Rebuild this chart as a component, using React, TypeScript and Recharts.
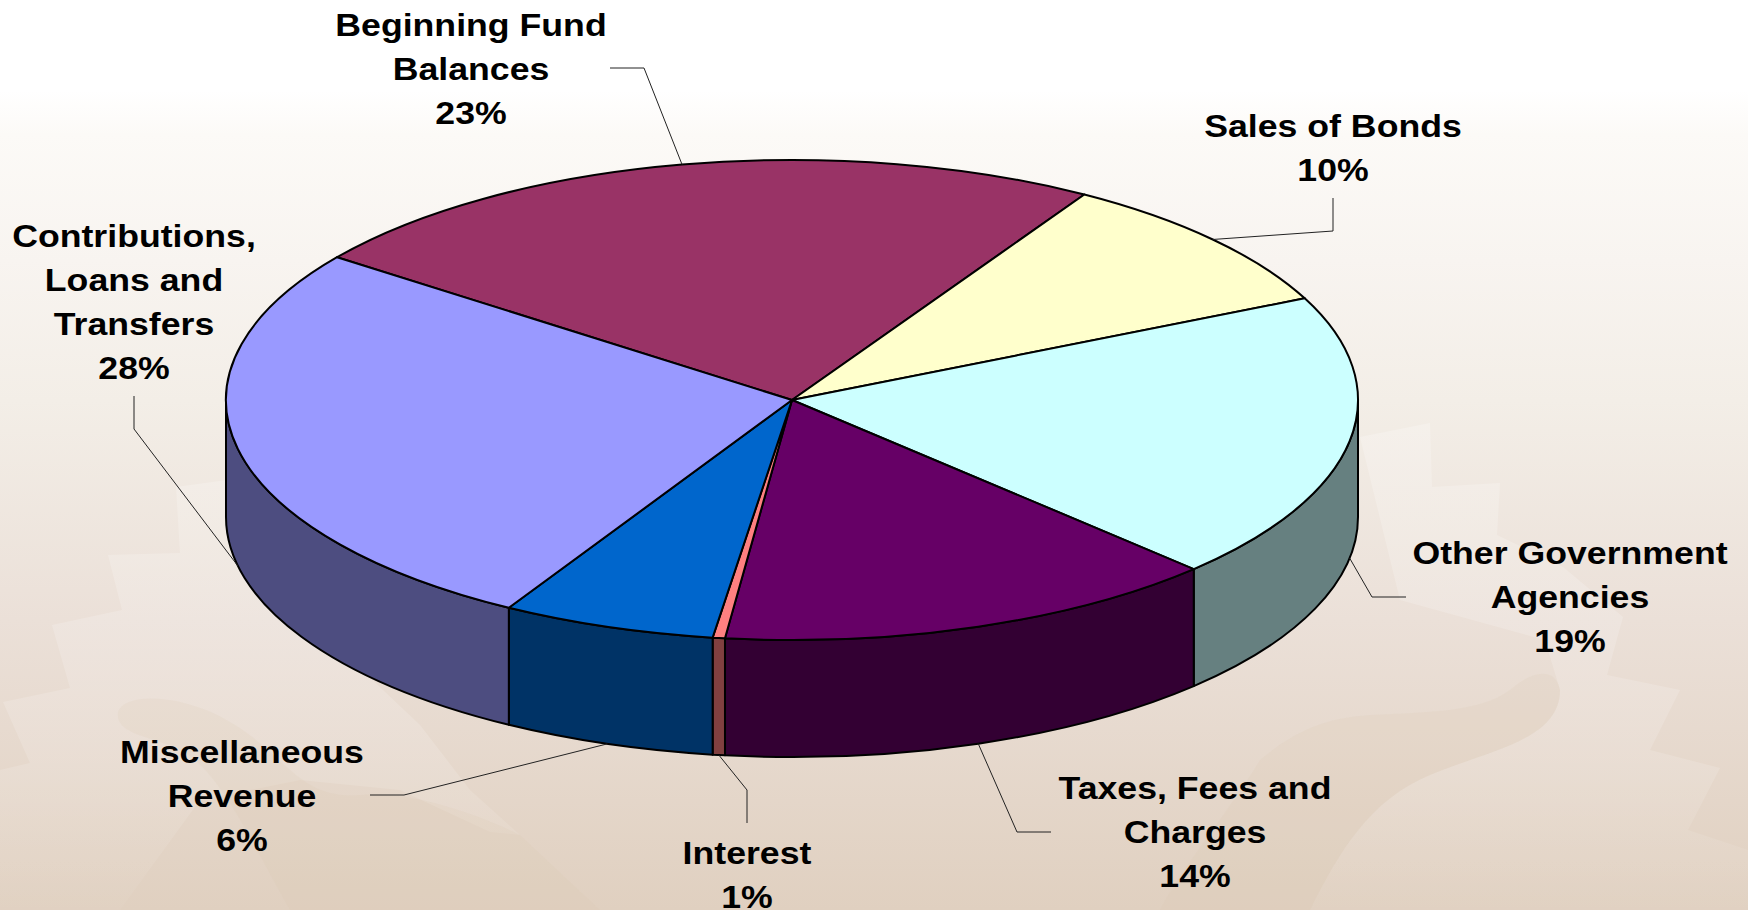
import { Pie, PieChart } from 'recharts'

const categories = [
  'Beginning Fund Balances',
  'Sales of Bonds',
  'Other Government Agencies',
  'Taxes, Fees and Charges',
  'Interest',
  'Miscellaneous Revenue',
  'Contributions, Loans and Transfers',
]
// slice sizes, the printed labels are rounded
const shares = [23.5, 9.4, 19.4, 14.45, 0.35, 6.1, 26.8]
const percentLabels = ['23%', '10%', '19%', '14%', '1%', '6%', '28%']
const topColors = ['#993366', '#FFFFCC', '#CCFFFF', '#660066', '#FF8080', '#0066CC', '#9999FF']
const sideColors = ['#4D1A33', '#808066', '#668080', '#330033', '#804040', '#003366', '#4D4D80']

const WIDTH = 1748
const HEIGHT = 910
const CX = 792
const CY = 400
const RX = 566
const RY = 240
const DEPTH = 117
const TEXT_STRETCH = 1.115

const labelLines = [
  ['Beginning Fund', 'Balances', '23%'],
  ['Sales of Bonds', '10%'],
  ['Other Government', 'Agencies', '19%'],
  ['Taxes, Fees and', 'Charges', '14%'],
  ['Interest', '1%'],
  ['Miscellaneous', 'Revenue', '6%'],
  ['Contributions,', 'Loans and', 'Transfers', '28%'],
]
const labelCenters = [
  [471, 25],
  [1333, 126],
  [1570, 553],
  [1195, 788],
  [747, 853],
  [242, 752],
  [134, 236],
]
// text end and elbow of each leader, the rim end comes from the slice's mid angle
const leaderElbows = [
  [[610, 68], [644, 68]],
  [[1333, 198], [1333, 231]],
  [[1406, 597], [1372, 597]],
  [[1051, 832], [1017, 832]],
  [[747, 823], [747, 790]],
  [[370, 795], [404, 795]],
  [[134, 396], [134, 429]],
]

// faint artwork behind the chart
const lightShapes = [
  'M176,487 L300,470 L330,640 L420,725 L470,790 L520,835 L490,832 L400,790 L300,780 L200,800 L120,910 L0,910 L0,770 L30,763 L3,702 L70,688 L52,625 L122,610 L108,555 L180,553 Z',
  'M1360,437 L1430,423 L1432,487 L1500,483 L1497,535 L1563,567 L1623,617 L1607,675 L1680,690 L1650,750 L1720,768 L1688,830 L1748,850 L1748,910 L1310,910 C1340,850 1370,800 1430,775 C1490,750 1560,740 1560,690 L1545,640 L1400,600 Z',
]
const darkShapes = [
  'M118,712 C125,690 190,695 235,725 C285,755 300,800 360,795 C410,790 480,815 520,835 L600,910 L290,910 C250,840 220,770 180,750 C150,735 115,735 118,712 Z',
  'M1560,690 C1555,665 1530,672 1510,690 C1480,712 1430,712 1370,715 C1320,718 1290,735 1260,760 C1230,810 1180,870 1160,910 L1310,910 C1340,850 1370,800 1430,775 C1490,750 1560,740 1560,690 Z',
]

const data = categories.map((name, i) => ({
  name,
  value: shares[i],
  percent: percentLabels[i],
  fill: topColors[i],
}))
const sideData = categories.map((name, i) => ({ name, value: shares[i], fill: sideColors[i] }))

const rad = (deg: number) => (deg * Math.PI) / 180
const px = (deg: number) => CX + RX * Math.cos(rad(deg))
const py = (deg: number) => CY - RY * Math.sin(rad(deg))

const TopSlice = (props: any) => {
  const { startAngle, endAngle, fill } = props
  const large = Math.abs(startAngle - endAngle) > 180 ? 1 : 0
  const d = `M${CX},${CY} L${px(startAngle)},${py(startAngle)} A${RX},${RY} 0 ${large} 1 ${px(endAngle)},${py(endAngle)} Z`
  return <path d={d} fill={fill} stroke="#000" strokeWidth={2} strokeLinejoin="round" />
}

const SideSlice = (props: any) => {
  const { fill } = props
  // only the front half of the rim can be seen
  const from = Math.min(props.startAngle, 0)
  const to = Math.max(props.endAngle, -180)
  if (from <= to) return <g />
  const d = `M${px(from)},${py(from)} A${RX},${RY} 0 0 1 ${px(to)},${py(to)} L${px(to)},${py(to) + DEPTH} A${RX},${RY} 0 0 0 ${px(from)},${py(from) + DEPTH} Z`
  return <path d={d} fill={fill} stroke="#000" strokeWidth={2} strokeLinejoin="round" />
}

const renderLabel = (props: any) => {
  const { index, midAngle } = props
  const rimX = px(midAngle)
  const rimY = py(midAngle) + (Math.sin(rad(midAngle)) < 0 ? DEPTH : 0)
  const [a, b] = leaderElbows[index]
  const [tx, ty] = labelCenters[index]
  return (
    <g key={categories[index]}>
      <polyline
        points={`${a[0]},${a[1]} ${b[0]},${b[1]} ${rimX},${rimY}`}
        fill="none"
        stroke="#222"
        strokeWidth={1}
      />
      <text
        transform={`translate(${tx} 0) scale(${TEXT_STRETCH} 1)`}
        textAnchor="middle"
        fontFamily="'Liberation Sans', Arial, sans-serif"
        fontWeight={700}
        fontSize={32}
        fill="#000"
      >
        {labelLines[index].map((line, i) => (
          <tspan key={line} x={0} y={ty + i * 44} dominantBaseline="central">
            {line}
          </tspan>
        ))}
      </text>
    </g>
  )
}

const App = () => (
  <div
    style={{
      position: 'absolute',
      left: 0,
      top: 0,
      width: WIDTH,
      height: HEIGHT,
      overflow: 'hidden',
      background:
        'linear-gradient(180deg, #ffffff 0px, #ffffff 90px, #fcfaf7 135px, #f8f4f0 260px, #f3eee7 400px, #ebe0d8 620px, #e0d0c0 910px)',
    }}
  >
    <svg width={WIDTH} height={HEIGHT} style={{ position: 'absolute', left: 0, top: 0 }}>
      <defs>
        <linearGradient id="lightFade" x1="0" y1="420" x2="0" y2="910" gradientUnits="userSpaceOnUse">
          <stop offset="0" stopColor="#fff" stopOpacity={0.22} />
          <stop offset="0.7" stopColor="#fff" stopOpacity={0.14} />
          <stop offset="1" stopColor="#fff" stopOpacity={0.03} />
        </linearGradient>
      </defs>
      {lightShapes.map((d) => (
        <path key={d} d={d} fill="url(#lightFade)" />
      ))}
      {darkShapes.map((d) => (
        <path key={d} d={d} fill="#d8c4b0" fillOpacity={0.16} />
      ))}
    </svg>
    <div style={{ position: 'absolute', left: 0, top: 0 }}>
      <PieChart width={WIDTH} height={HEIGHT} margin={{ top: 0, right: 0, bottom: 0, left: 0 }}>
        <Pie
          data={sideData}
          dataKey="value"
          cx={CX}
          cy={CY}
          outerRadius={RX}
          startAngle={143.5}
          endAngle={-216.5}
          shape={SideSlice}
          isAnimationActive={false}
        />
        <Pie
          data={data}
          dataKey="value"
          cx={CX}
          cy={CY}
          outerRadius={RX}
          startAngle={143.5}
          endAngle={-216.5}
          shape={TopSlice}
          label={renderLabel}
          labelLine={false}
          isAnimationActive={false}
        />
      </PieChart>
    </div>
  </div>
)

export default App
